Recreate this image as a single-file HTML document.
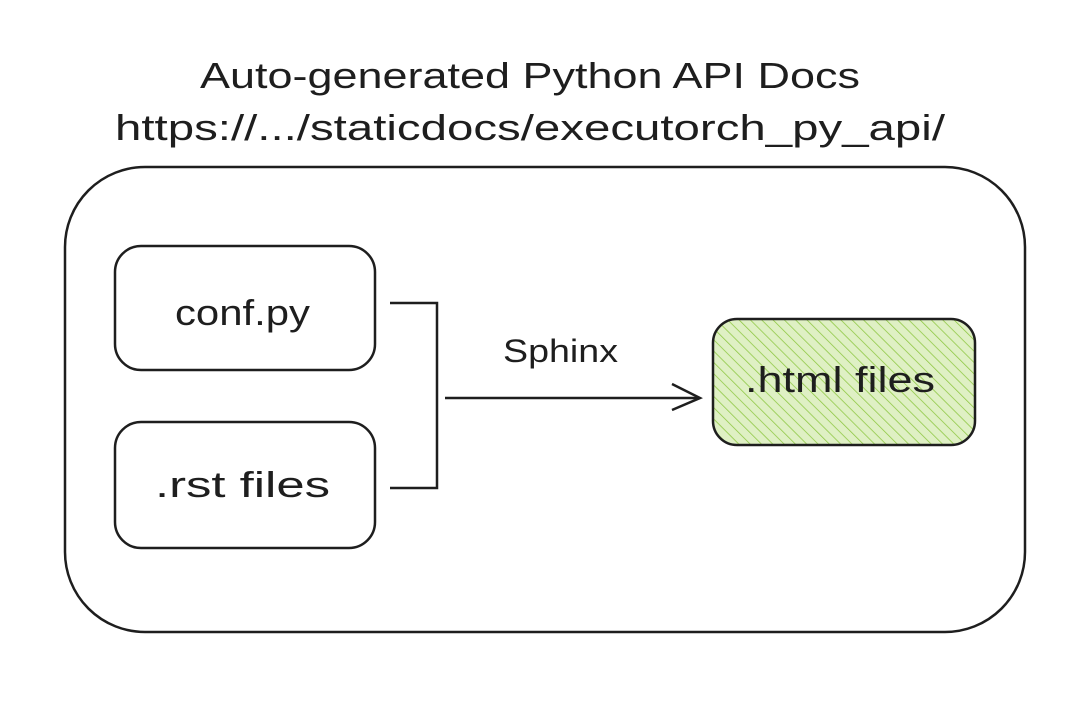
<!DOCTYPE html>
<html><head><style>
html,body{margin:0;padding:0;background:#fff;}
body{width:1086px;height:710px;overflow:hidden;}
text{font-family:"Liberation Sans",sans-serif;fill:#1e1e1e;}
</style></head><body>
<svg width="1086" height="710" viewBox="0 0 1086 710" xmlns="http://www.w3.org/2000/svg">
<defs>
<pattern id="h" width="8" height="8" patternUnits="userSpaceOnUse" patternTransform="rotate(-45)">
<rect width="8" height="8" fill="#dff0c4"/>
<line x1="0" y1="0" x2="0" y2="8" stroke="#8cc63f" stroke-width="1.5"/>
</pattern>
</defs>
<text x="200" y="88" font-size="36" textLength="660" lengthAdjust="spacingAndGlyphs">Auto-generated Python API Docs</text>
<text x="115" y="140" font-size="36" textLength="830" lengthAdjust="spacingAndGlyphs">https://.../staticdocs/executorch_py_api/</text>
<rect x="65" y="167" width="960" height="465" rx="80" fill="none" stroke="#1e1e1e" stroke-width="2.5"/>
<rect x="115" y="246" width="260" height="124" rx="26" fill="none" stroke="#1e1e1e" stroke-width="2.5"/>
<text x="175" y="325" font-size="36" textLength="135" lengthAdjust="spacingAndGlyphs">conf.py</text>
<rect x="115" y="422" width="260" height="126" rx="26" fill="none" stroke="#1e1e1e" stroke-width="2.5"/>
<text x="155" y="497" font-size="36" textLength="175" lengthAdjust="spacingAndGlyphs">.rst files</text>
<polyline points="390,303 437,303 437,488 390,488" fill="none" stroke="#1e1e1e" stroke-width="2.5"/>
<line x1="445" y1="398" x2="700" y2="398" stroke="#1e1e1e" stroke-width="2.5"/>
<polyline points="672,384 700,398 672,410" fill="none" stroke="#1e1e1e" stroke-width="2.5"/>
<text x="503" y="362" font-size="32" textLength="115" lengthAdjust="spacingAndGlyphs">Sphinx</text>
<rect x="713" y="319" width="262" height="126" rx="24" fill="url(#h)" stroke="#1e1e1e" stroke-width="2.5"/>
<text x="745" y="392" font-size="36" textLength="190" lengthAdjust="spacingAndGlyphs">.html files</text>
</svg>
</body></html>
